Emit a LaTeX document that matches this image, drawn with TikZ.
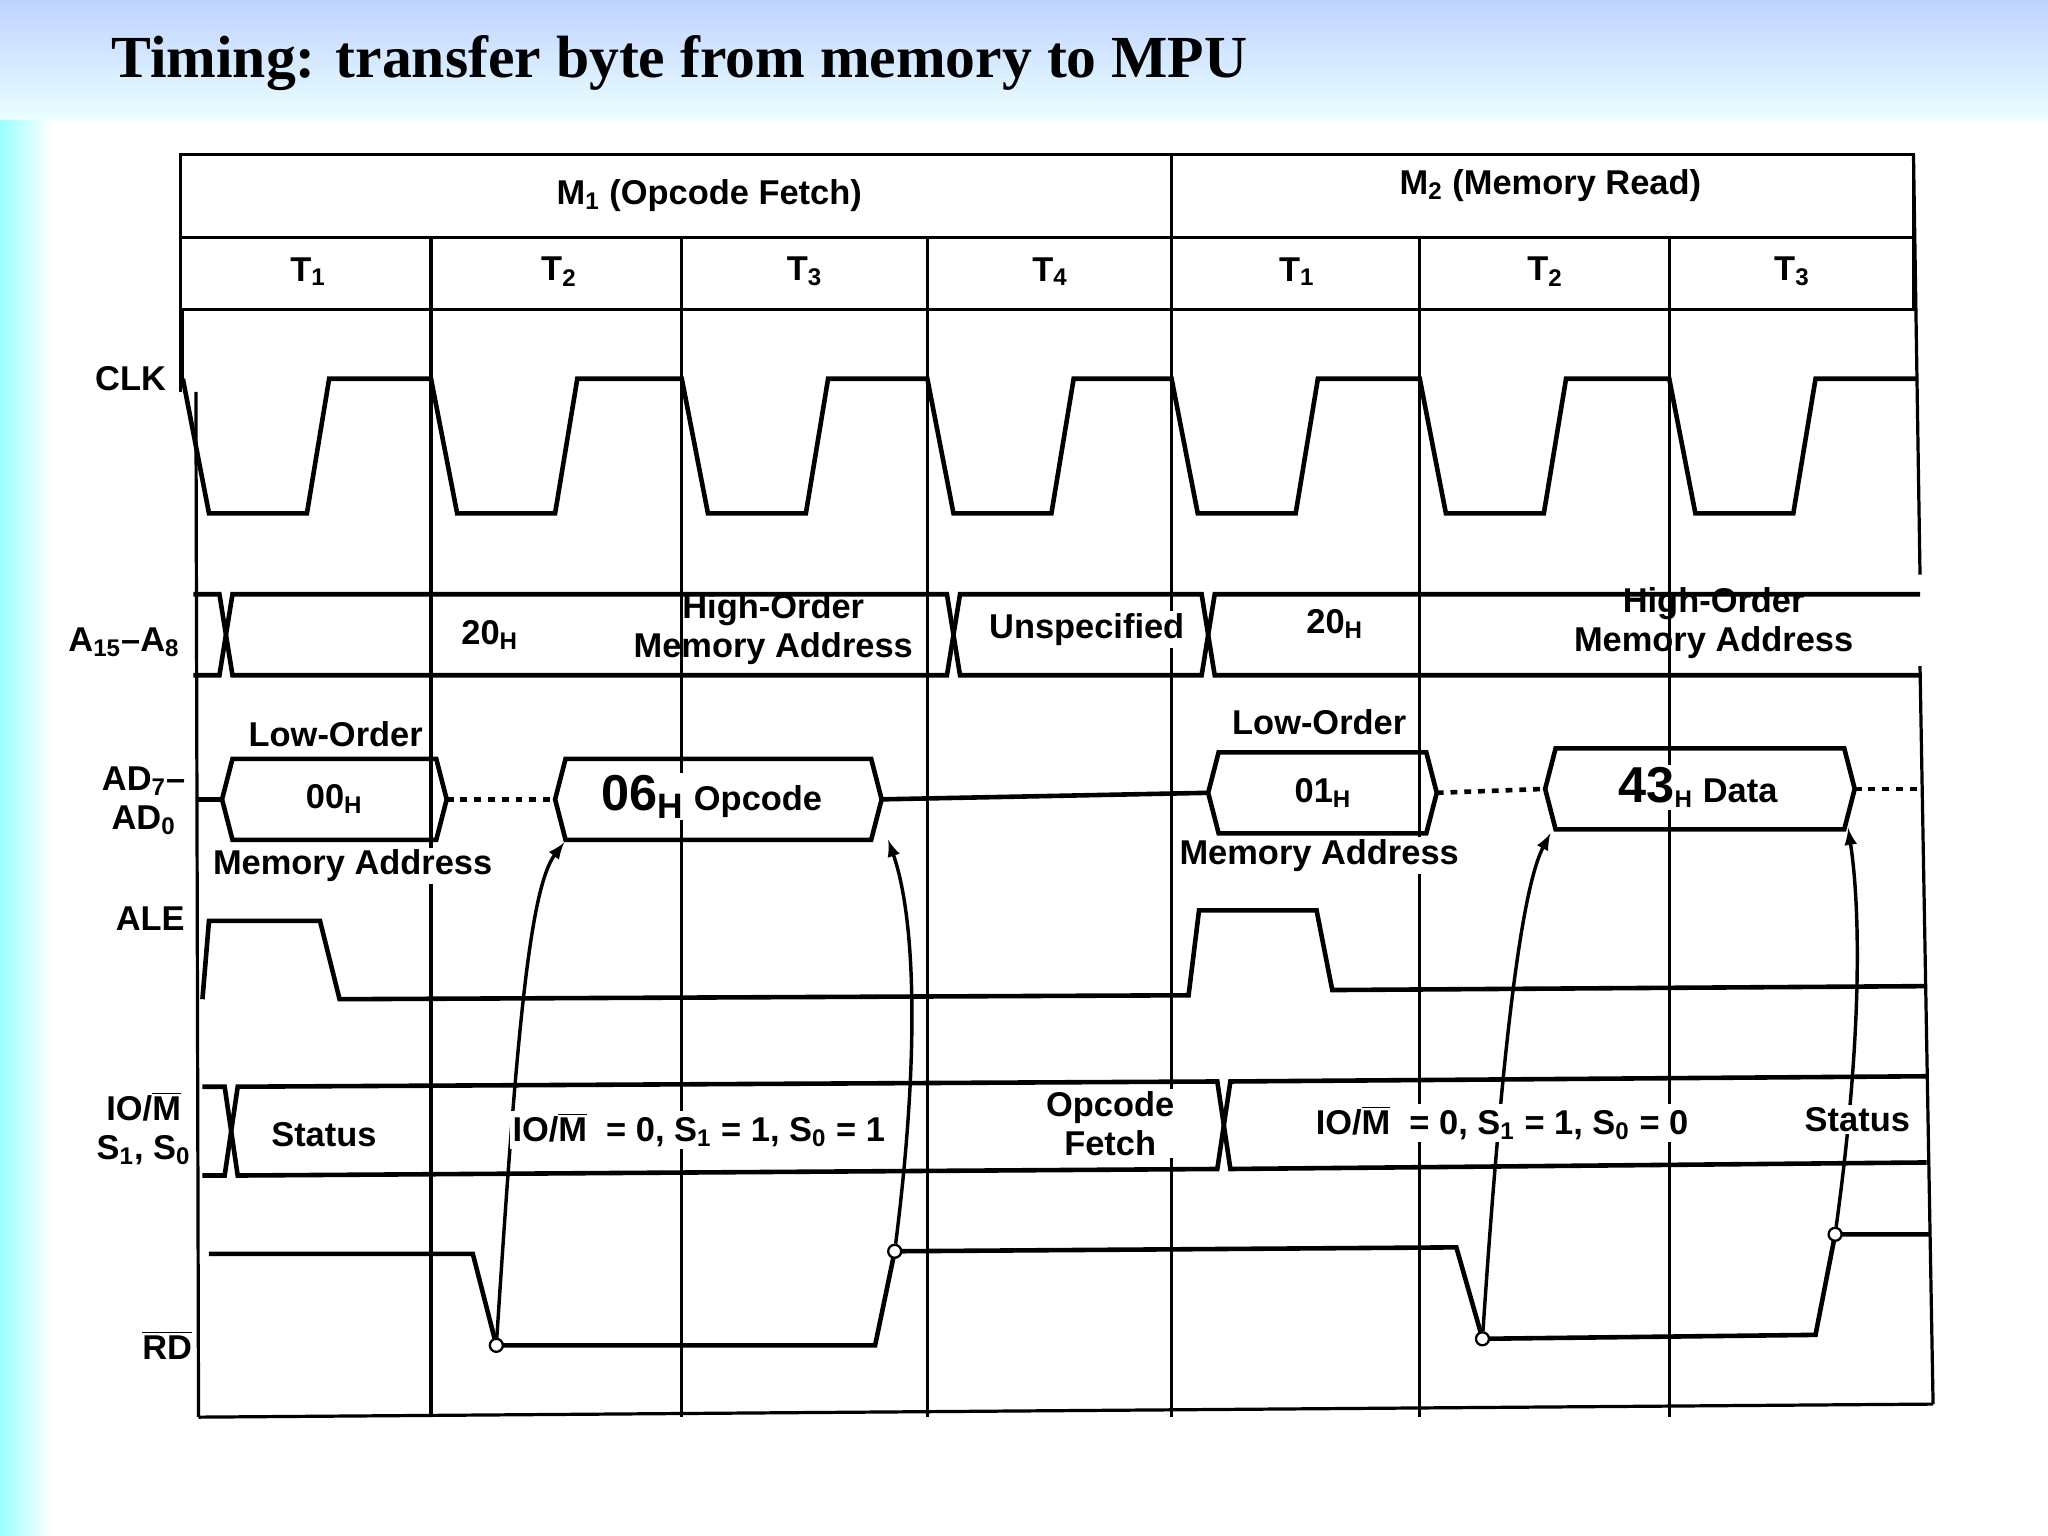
\documentclass[tikz,border=0pt]{standalone}
\usepackage{fontspec}
\setmainfont{Liberation Sans}
\newfontfamily\titlefont{Liberation Serif}
\begin{document}
\begin{tikzpicture}[x=0.02cm,y=-0.02cm,line width=1.6pt,
  lbl/.style={font=\fontsize{15}{17}\selectfont\bfseries\boldmath,inner sep=1pt,fill=white},
  grid/.style={line width=1.4pt},
  sig/.style={line width=2pt},
  dot/.style={circle,draw,fill=white,inner sep=2pt,line width=1pt}]
\useasboundingbox (0,0) rectangle (1568,1176);
\shade[top color=cyan!30!blue!25,bottom color=cyan!8] (0,0) rectangle (1568,92);
\shade[left color=cyan!40,right color=white] (0,92) rectangle (40,1176);
\fill[white] (40,92) rectangle (1568,1176);
\node[anchor=west,font=\titlefont\fontsize{26}{30}\selectfont\bfseries] (title) at (78,48) {Timing: transfer byte from memory to MPU};
% grid
\draw[grid] (138,118) rectangle (1465,237);
\draw[grid] (138,182) -- (1465,182);
\draw[grid] (897,118) -- (897,182);
\foreach \x in {330,522,710,897,1087,1278}{\draw[grid] (\x,182) -- (\x,1085);}
\draw[grid] (138,118) -- (138,300);
\draw[grid] (150,300) -- (152,1085);
\draw[grid] (1465,118) -- (1470,440);
\draw[grid] (1470,510) -- (1480,1075);
\draw[grid] (152,1085) -- (1480,1075);
\draw[grid] (140,237) -- (140,290);
\node[lbl] (m1) at (543,150) {M\textsubscript{1} (Opcode Fetch)};
\node[lbl] (m2) at (1187,142) {M\textsubscript{2} (Memory Read)};
\foreach \x/\t in {236/1,428/2,616/3,804/4,993/1,1183/2,1372/3}{\node[lbl] at (\x,208) {T\textsubscript{\t}};}
% left labels
\node[lbl] (lclk) at (100,290) {CLK};
\node[lbl] (la) at (95,492) {A\textsubscript{15}--A\textsubscript{8}};
\node[lbl,align=center] (lad) at (110,613) {AD\textsubscript{7}--\\AD\textsubscript{0}};
\node[lbl] (lale) at (115,703) {ALE};
\node[lbl,align=center] (lio) at (110,864) {IO/$\overline{\mathrm{M}}$\\S\textsubscript{1}, S\textsubscript{0}};
\node[lbl] (lrd) at (128,1030) {$\overline{\hbox{\bfseries RD}}$};
% CLK
\draw[sig] (140,290) \foreach \x in {140,330,522,710,897,1087,1278}{ -- (\x,290) -- (\x+20,393) -- (\x+95,393) -- (\x+112,290)} -- (1468,290);
% A15-A8 bus
\def\ya{455}\def\yb{517}
\draw[sig] (148,\ya) -- (168,\ya) -- (178,\yb) -- (725,\yb) -- (735,\ya) -- (920,\ya) -- (930,\yb) -- (1470,\yb);
\draw[sig] (148,\yb) -- (168,\yb) -- (178,\ya) -- (725,\ya) -- (735,\yb) -- (920,\yb) -- (930,\ya) -- (1470,\ya);
\node[lbl] at (375,486) {20\textsubscript{H}};
\node[lbl,fill=none,align=center] at (592,482) {High-Order\\Memory Address};
\node[lbl] at (832,482) {Unspecified};
\node[lbl] at (1022,478) {20\textsubscript{H}};
\node[lbl,fill=none,align=center] at (1312,477) {High-Order\\Memory Address};
% AD bus
\def\busbox#1#2#3{\draw[sig] (#1,#3) -- (#1+8,#3-31) -- (#2-8,#3-31) -- (#2,#3) -- (#2-8,#3+31) -- (#1+8,#3+31) -- cycle;}
\busbox{170}{342}{612}
\busbox{425}{675}{612}
\busbox{925}{1100}{607}
\busbox{1183}{1420}{604}
\draw[sig] (150,612) -- (170,612);
\draw[sig,dashed] (342,612) -- (425,612);
\draw[sig] (675,612) -- (925,607);
\draw[sig,dashed] (1100,607) -- (1183,604);
\draw[sig,dashed] (1420,604) -- (1470,604);
\node[lbl] at (257,562) {Low-Order};
\node[lbl] at (256,612) {00\textsubscript{H}};
\node[lbl] at (270,663) {Memory Address};
\node[lbl] at (545,610) {\fontsize{22}{24}\selectfont 06\textsubscript{H}\fontsize{15}{17}\selectfont\ Opcode};
\node[lbl] at (1010,553) {Low-Order};
\node[lbl] at (1013,607) {01\textsubscript{H}};
\node[lbl] at (1010,655) {Memory Address};
\node[lbl] at (1300,603) {\fontsize{22}{24}\selectfont 43\fontsize{15}{17}\selectfont\textsubscript{H} Data};
% ALE
\draw[sig] (155,765) -- (160,705) -- (245,705) -- (260,765) -- (910,762) -- (918,697) -- (1008,697) -- (1020,758) -- (1475,755);
% IO/M status bus
\draw[sig] (155,832) -- (172,832) -- (182,900) -- (932,895) -- (942,828) -- (1475,824);
\draw[sig] (155,900) -- (172,900) -- (182,832) -- (932,828) -- (942,895) -- (1475,890);
% RD
\draw[sig] (160,960) -- (362,960) -- (380,1030) -- (670,1030) -- (685,958) -- (1115,955) -- (1135,1025) -- (1390,1022) -- (1405,945) -- (1478,945);
\node[dot] (r1) at (380,1030) {};
\node[dot] (r2) at (685,958) {};
\node[dot] (r3) at (1135,1025) {};
\node[dot] (r4) at (1405,945) {};
\coordinate (a1) at (432,645);
\coordinate (a2) at (680,643);
\coordinate (a3) at (1187,638);
\coordinate (a4) at (1415,634);
\draw[line width=1.5pt,-latex] (r1) .. controls (395,800) and (405,680) .. (a1);
\draw[line width=1.5pt,-latex] (r2) .. controls (705,800) and (700,700) .. (a2);
\draw[line width=1.5pt,-latex] (r3) .. controls (1150,800) and (1165,680) .. (a3);
\draw[line width=1.5pt,-latex] (r4) .. controls (1425,800) and (1425,700) .. (a4);
\node[lbl] at (248,869) {Status};
\node[lbl] at (535,865) {IO/$\overline{\mathrm{M}}$\ \ = 0, S\textsubscript{1} = 1, S\textsubscript{0} = 1};
\node[lbl,align=center] at (850,860) {Opcode\\Fetch};
\node[lbl] at (1150,860) {IO/$\overline{\mathrm{M}}$\ \ = 0, S\textsubscript{1} = 1, S\textsubscript{0} = 0};
\node[lbl] at (1422,857) {Status};
\end{tikzpicture}
\end{document}
